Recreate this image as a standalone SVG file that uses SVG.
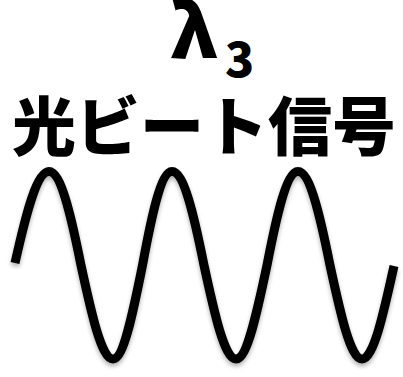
<svg xmlns="http://www.w3.org/2000/svg" width="403" height="377" viewBox="0 0 403 377">
<defs>
<style>
.t{font-family:"Noto Sans CJK JP","Noto Sans",sans-serif;font-weight:900;fill:#000}
.w{fill:none;stroke:#000;stroke-width:9;stroke-linecap:butt}
</style>
<filter id="sh" x="-10%" y="-10%" width="120%" height="130%">
<feGaussianBlur in="SourceAlpha" stdDeviation="2"/>
<feOffset dx="0" dy="3" result="b"/>
<feComponentTransfer><feFuncA type="linear" slope="0.3"/></feComponentTransfer>
<feMerge><feMergeNode/><feMergeNode in="SourceGraphic"/></feMerge>
</filter>
</defs>
<rect width="403" height="377" fill="#fff"/>
<g id="label-lambda">
<text class="t" x="170" y="58" font-size="74">λ</text>
<text class="t" x="225" y="77" font-size="48">3</text>
</g>
<g id="title">
<text class="t" x="204" y="150" font-size="64" text-anchor="middle">光ビート信号</text>
</g>
<g id="wave">
<path class="w" filter="url(#sh)" d="M15,263 C26.1,213.2 36.7,171.5 49,171.5 C60.6,171.5 70.6,213.2 81,265.25 C91.4,313.3 101.4,359 113,359 C123.7,359 132.9,313.3 142.5,265.25 C152.1,213.2 161.3,171.5 172,171.5 C183.6,171.5 193.6,213.2 204,265.25 C214.4,313.3 224.4,359 236,359 C247.2,359 256.9,313.3 267,265.25 C277.1,213.2 286.8,171.5 298,171.5 C309.6,171.5 319.6,213.2 330,265.25 C340.4,313.3 350.4,359 362,359 C373.6,359 383.6,313.3 394,266"/>
</g>
</svg>
